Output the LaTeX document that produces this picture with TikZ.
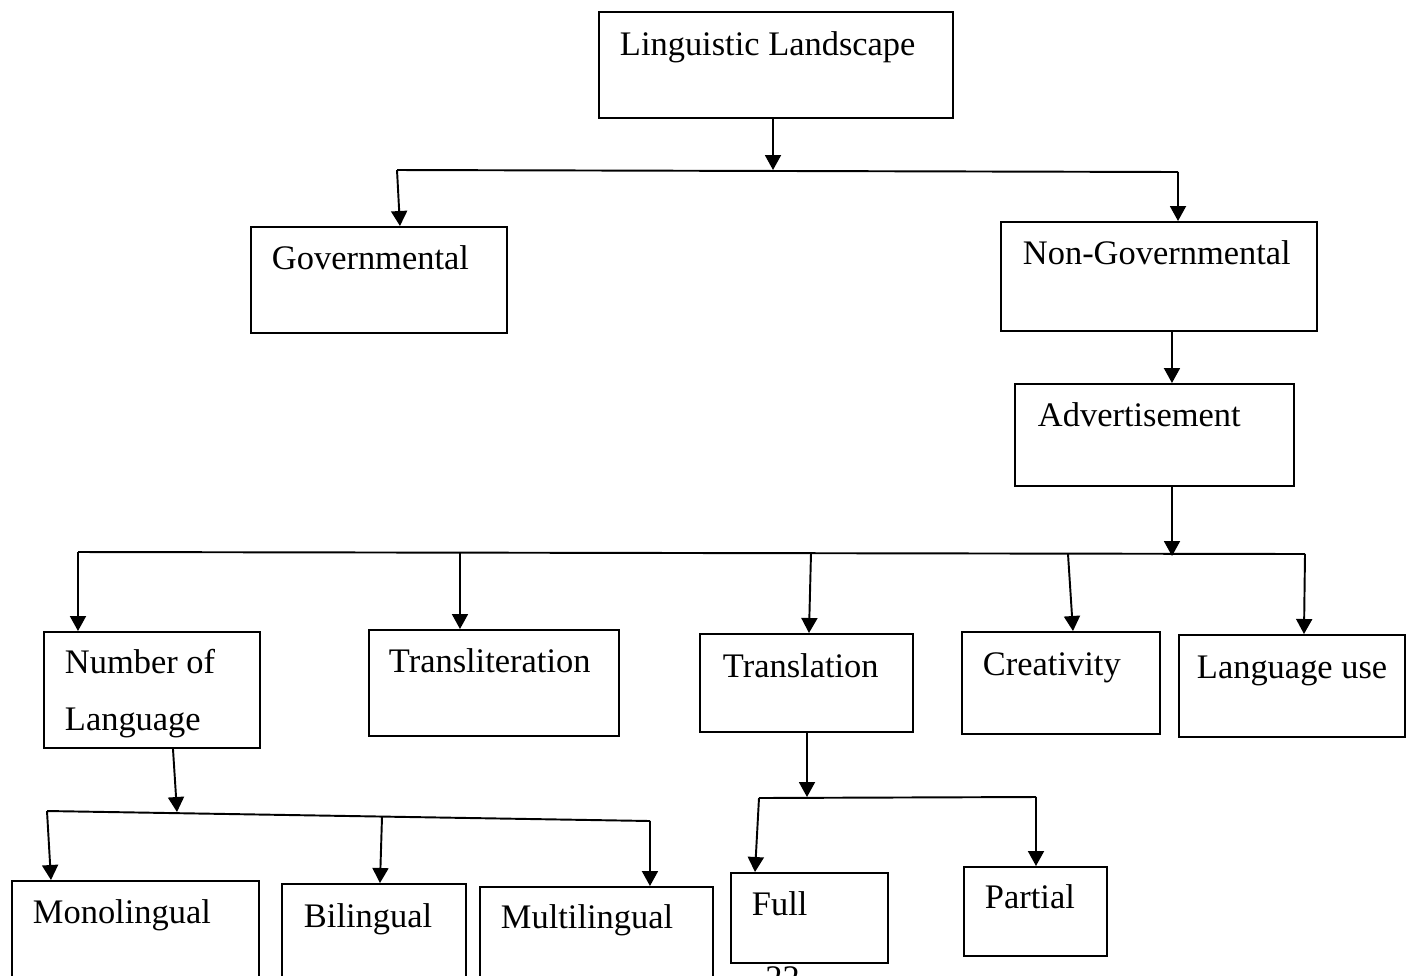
\documentclass[tikz,border=0pt]{standalone}
\usepackage{fontspec}
\setmainfont{Liberation Serif}
\usepackage{tikz}
\usetikzlibrary{arrows.meta}

\begin{document}
\begin{tikzpicture}[x=0.02cm, y=-0.02cm,
    box/.style={draw, line width=1.1pt, inner ysep=0pt, anchor=north west, align=flush left, font=\fontsize{19.6pt}{32.4pt}\selectfont},
    arrow/.style={-{Triangle[width=0.32cm, length=0.3cm]}, line width=1.1pt},
    bus/.style={line width=1.1pt},
]
\useasboundingbox (0,0) rectangle (1406,975);
% top level
\node[box, inner xsep=0.42cm, text width=6.24cm, text height=0.88cm, text depth=1.24cm] (ll) at (598,11) {Linguistic Landscape};
\node[box, inner xsep=0.42cm, text width=4.28cm, text height=0.86cm, text depth=1.26cm] (gov) at (250,226) {Governmental};
\node[box, inner xsep=0.44cm, text width=5.44cm, text height=0.86cm, text depth=1.32cm] (ngov) at (1000,221) {\mbox{Non-Governmental}};
\node[box, inner xsep=0.46cm, text width=4.66cm, text height=0.86cm, text depth=1.18cm] (adv) at (1014,383) {Advertisement};
\coordinate (j1) at (773,170); \coordinate (b1l) at (397,170); \coordinate (b1r) at (1178,172);
\draw[arrow] (ll.south -| j1) -- (j1);
\draw[bus] (b1l) -- (b1r);
\draw[arrow] (b1l) -- ([xshift=3cm]gov.north west);
\draw[arrow] (b1r) -- (b1r |- ngov.north);
\draw[arrow] ([xshift=3.44cm]ngov.south west) -- ([xshift=3.16cm]adv.north west);
% second level
\node[box, inner xsep=0.42cm, text width=3.48cm, text height=0.84cm, text depth=1.48cm] (numlang) at (43,631) {Number of\\Language};
\node[box, inner xsep=0.40cm, text width=4.20cm, text height=0.86cm, text depth=1.26cm] (translit) at (368,629) {Transliteration};
\node[box, inner xsep=0.46cm, text width=3.34cm, text height=0.88cm, text depth=1.08cm] (transl) at (699,633) {Translation};
\node[box, inner xsep=0.42cm, text width=3.12cm, text height=0.88cm, text depth=1.16cm] (creat) at (961,631) {Creativity};
\node[box, inner xsep=0.36cm, text width=3.80cm, text height=0.88cm, text depth=1.16cm] (languse) at (1178,634) {\mbox{Language use}};
\coordinate (j2) at (1172,556); \coordinate (b2l) at (78,552); \coordinate (b2r) at (1305,554);
\coordinate (tapTranslit) at (460,552); \coordinate (tapTransl) at (811,553); \coordinate (tapCreat) at (1068,554);
\draw[arrow] ([xshift=3.16cm]adv.south west) -- (j2);
\draw[bus] (b2l) -- (b2r);
\draw[arrow] (b2l) -- ([xshift=0.7cm]numlang.north west);
\draw[arrow] (tapTranslit) -- ([xshift=1.84cm]translit.north west);
\draw[arrow] (tapTransl) -- ([xshift=2.2cm]transl.north west);
\draw[arrow] (tapCreat) -- ([xshift=2.24cm]creat.north west);
\draw[arrow] (b2r) -- ([xshift=2.52cm]languse.north west);
% third level
\node[box, inner xsep=0.42cm, text width=4.10cm, text height=0.86cm, text depth=1.34cm] (mono) at (11,880) {Monolingual};
\node[box, inner xsep=0.44cm, text width=2.80cm, text height=0.88cm, text depth=1.32cm] (bi) at (281,883) {Bilingual};
\node[box, inner xsep=0.42cm, text width=3.82cm, text height=0.84cm, text depth=1.36cm] (multi) at (479,886) {Multilingual};
\node[box, inner xsep=0.42cm, text width=2.30cm, text height=0.86cm, text depth=0.94cm] (full) at (730,872) {Full};
\node[box, inner xsep=0.42cm, text width=2.02cm, text height=0.84cm, text depth=0.94cm] (partial) at (963,866) {Partial};
\coordinate (j3) at (177,812); \coordinate (b3l) at (47,811); \coordinate (b3r) at (650,821); \coordinate (tapBi) at (382,817);
\draw[arrow] ([xshift=2.6cm]numlang.south west) -- (j3);
\draw[bus] (b3l) -- (b3r);
\draw[arrow] (b3l) -- ([xshift=0.8cm]mono.north west);
\draw[arrow] (tapBi) -- ([xshift=1.98cm]bi.north west);
\draw[arrow] (b3r) -- ([xshift=3.42cm]multi.north west);
\coordinate (j4) at (807,797); \coordinate (b4l) at (759,798); \coordinate (b4r) at (1036,797);
\draw[arrow] ([xshift=2.16cm]transl.south west) -- (j4);
\draw[bus] (b4l) -- (b4r);
\draw[arrow] (b4l) -- ([xshift=0.5cm]full.north west);
\draw[arrow] (b4r) -- ([xshift=1.46cm]partial.north west);
% page number, cut by the page edge
\node[anchor=base west, inner sep=0pt, font=\fontsize{19.6pt}{24pt}\selectfont] (pagenum) at (765,989) {22};
\end{tikzpicture}
\end{document}
